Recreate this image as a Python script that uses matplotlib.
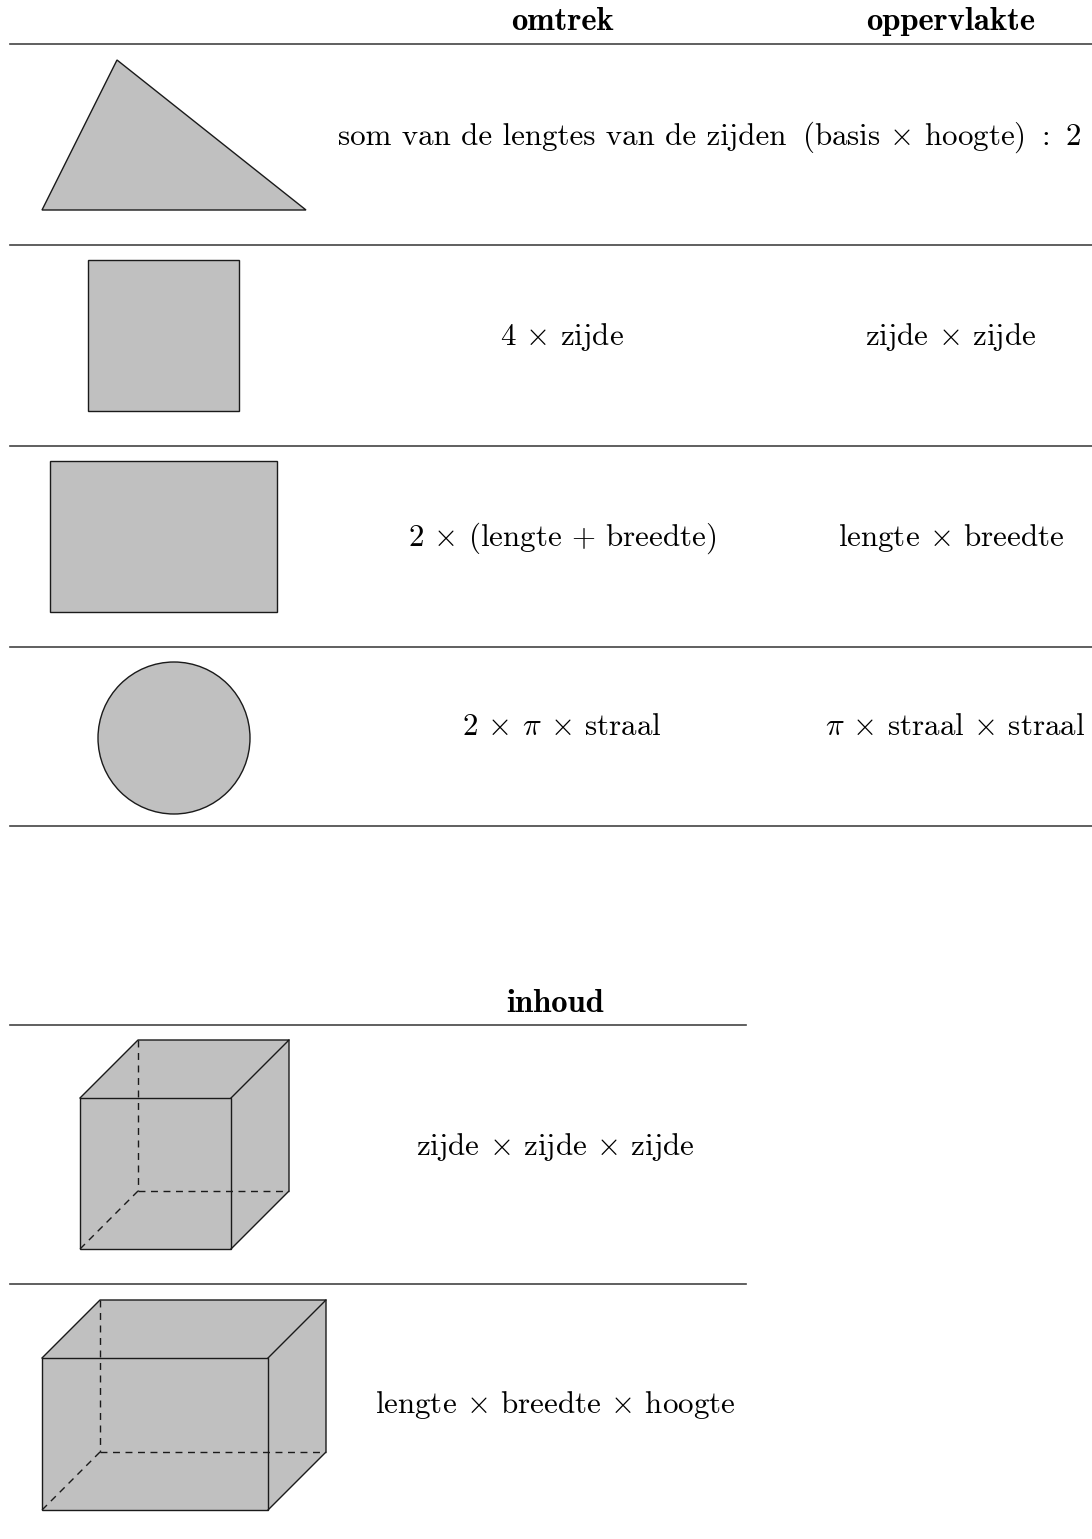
import matplotlib
matplotlib.use("Agg")
import matplotlib.pyplot as plt
from matplotlib.patches import Polygon, Rectangle, Circle

plt.rcParams["mathtext.fontset"] = "cm"
plt.rcParams["axes.unicode_minus"] = False

# table 1: plane figures
HEADERS_2D = ["omtrek", "oppervlakte"]
OMTREK = [
    "som van de lengtes van de zijden",
    r"4 $\times$ zijde",
    r"2 $\times$ (lengte + breedte)",
    r"2 $\times$ $\pi$ $\times$ straal",
]
OPPERVLAKTE = [
    r"(basis $\times$ hoogte) $:$ 2",
    r"zijde $\times$ zijde",
    r"lengte $\times$ breedte",
    r"$\pi$ $\times$ straal $\times$ straal",
]
ROW_TEXT_Y = [137, 337, 538, 727]
RULES_2D = [44, 245, 446, 647, 826]

# table 2: solids
HEADER_3D = "inhoud"
INHOUD = [
    r"zijde $\times$ zijde $\times$ zijde",
    r"lengte $\times$ breedte $\times$ hoogte",
]
ROW3D_TEXT_Y = [1147, 1405]
RULES_3D = [1025, 1284]

# shapes (pixel units)
TRIANGLE = [(42, 210), (306, 210), (117, 60)]
SQUARE = (88, 260, 151, 151)        # x, y_top, w, h
RECT = (50, 461, 227, 151)
CIRCLE = (174, 738, 76)
CUBE = (80, 1098, 151, 151)         # front face x, y_top, w, h
CUBOID = (42, 1358, 226, 152)
DEPTH = 58

FILL = "#c0c0c0"
EDGE = "#1a1a1a"
FS = 22.3
FS_HEAD = 23.5

fig = plt.figure(figsize=(10.92, 15.39), dpi=100)
ax = fig.add_axes([0, 0, 1, 1])
ax.set_xlim(0, 1092)
ax.set_ylim(1539, 0)
ax.axis("off")

COL_X = [562, 951]
# first row of the right column is wider and sits a little to the left
OPP_X = [942, 951, 951, 955]

# headers
for x, h in zip(COL_X, HEADERS_2D):
    ax.text(x, 22, h, ha="center", va="center", fontsize=FS_HEAD, family="cmb10")
for y in RULES_2D:
    ax.plot([10, 1092], [y, y], color="#444444", lw=1.2)

for y, a, xb, b in zip(ROW_TEXT_Y, OMTREK, OPP_X, OPPERVLAKTE):
    ax.text(COL_X[0], y, a, ha="center", va="center", fontsize=FS, family="cmr10")
    ax.text(xb, y, b, ha="center", va="center", fontsize=FS, family="cmr10")

ax.add_patch(Polygon(TRIANGLE, closed=True, fc=FILL, ec=EDGE, lw=1))
x, y, w, h = SQUARE
ax.add_patch(Rectangle((x, y), w, h, fc=FILL, ec=EDGE, lw=1))
x, y, w, h = RECT
ax.add_patch(Rectangle((x, y), w, h, fc=FILL, ec=EDGE, lw=1))
cx, cy, r = CIRCLE
ax.add_patch(Circle((cx, cy), r, fc=FILL, ec=EDGE, lw=1))

# second table
ax.text(555, 1003, HEADER_3D, ha="center", va="center", fontsize=FS_HEAD, family="cmb10")
for y in RULES_3D:
    ax.plot([10, 746], [y, y], color="#444444", lw=1.2)
for y, t in zip(ROW3D_TEXT_Y, INHOUD):
    ax.text(555, y, t, ha="center", va="center", fontsize=FS, family="cmr10")


def box(x, y, w, h, d):
    # front face corners (y grows downward)
    fl, fr, ft, fb = x, x + w, y, y + h
    bl, br, bt, bb = x + d, x + w + d, y - d, y + h - d
    outline = [(fl, fb), (fl, ft), (bl, bt), (br, bt), (br, bb), (fr, fb)]
    ax.add_patch(Polygon(outline, closed=True, fc=FILL, ec="none"))
    # hidden edges
    ax.plot([bl, bl], [bt, bb], color=EDGE, lw=1, ls=(0, (5, 4)))
    ax.plot([bl, br], [bb, bb], color=EDGE, lw=1, ls=(0, (5, 4)))
    ax.plot([bl, fl], [bb, fb], color=EDGE, lw=1, ls=(0, (5, 4)))
    # visible edges
    ax.add_patch(Rectangle((fl, ft), w, h, fc="none", ec=EDGE, lw=1))
    ax.plot([fl, bl, br, fr], [ft, bt, bt, ft], color=EDGE, lw=1)
    ax.plot([br, br, fr], [bt, bb, fb], color=EDGE, lw=1)


box(*CUBE, DEPTH)
box(*CUBOID, DEPTH)

fig.savefig("out.png", dpi=100)
